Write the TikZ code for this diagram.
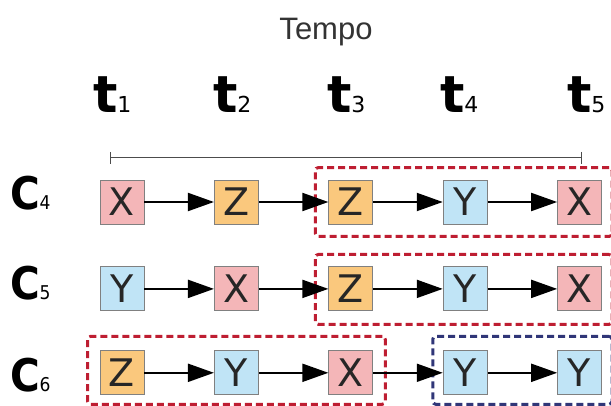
\documentclass[tikz,border=0pt]{standalone}
\usepackage{fontspec}
\setmainfont{DejaVu Sans}
\newfontfamily\tempofont{Liberation Sans}
\newfontfamily\labelfont{DejaVu Sans Condensed}
\usetikzlibrary{arrows.meta,positioning,fit}
\definecolor{cellred}{RGB}{244,182,184}
\definecolor{cellorange}{RGB}{250,200,125}
\definecolor{cellblue}{RGB}{192,228,246}
\definecolor{groupred}{RGB}{190,30,50}
\definecolor{groupblue}{RGB}{48,54,120}
\newcommand{\idx}[2]{{\fontsize{#1}{#1}\selectfont\mdseries #2}}

\begin{document}
\begin{tikzpicture}[x=1pt,y=1pt,->,>={Triangle[length=26pt,width=18pt]},
                    node distance=42pt and 69.5pt,line width=2pt,
                    font=\fontsize{38}{38}\selectfont]
  \tikzstyle{cell}=[draw=gray,line width=0.9pt,minimum size=44pt,inner sep=0pt,text=black!85]
  \tikzstyle{group}=[draw,line width=3pt,dash pattern=on 7pt off 4pt,rounded corners=3pt,inner xsep=12pt,inner ysep=12pt]
  \useasboundingbox (0,0) rectangle (611,-406);

  % title and time axis
  \node[anchor=base,font=\tempofont\fontsize{31}{31}\selectfont,text=black!80] (tempo) at (326,-40) {Tempo};
  \foreach \i/\x in {1/92,2/212,3/326,4/439,5/566}
    \node[anchor=base west,inner sep=0pt,font=\bfseries\fontsize{51}{51}\selectfont] (t\i) at (\x,-113) {t\idx{22}{\i}};
  \coordinate (tl) at (110,-158);
  \coordinate (tr) at (582,-158);
  \draw[{Bar[width=12pt]}-{Bar[width=12pt]},line width=1pt,black!70] (tl) -- (tr);

  % sequence labels
  \foreach \n/\y in {4/210,5/300,6/391}
    \node[anchor=base west,inner sep=0pt,font=\labelfont\bfseries\fontsize{45}{45}\selectfont] (s\n) at (9,-\y) {C\idx{19}{\n}};

  % sequences
  \node[cell,fill=cellred] (a1) at (122,-202) {X};
  \node[cell,fill=cellorange] (a2) [right=of a1] {Z};
  \node[cell,fill=cellorange] (a3) [right=of a2] {Z};
  \node[cell,fill=cellblue] (a4) [right=of a3] {Y};
  \node[cell,fill=cellred] (a5) [right=of a4] {X};

  \node[cell,fill=cellblue] (b1) [below=of a1] {Y};
  \node[cell,fill=cellred] (b2) [right=of b1] {X};
  \node[cell,fill=cellorange] (b3) [right=of b2] {Z};
  \node[cell,fill=cellblue] (b4) [right=of b3] {Y};
  \node[cell,fill=cellred] (b5) [right=of b4] {X};

  \node[cell,fill=cellorange] (c1) [below=39pt of b1] {Z};
  \node[cell,fill=cellblue] (c2) [right=of c1] {Y};
  \node[cell,fill=cellred] (c3) [right=of c2] {X};
  \node[cell,fill=cellblue] (c4) [right=of c3] {Y};
  \node[cell,fill=cellblue] (c5) [right=of c4] {Y};

  % groups
  \node[group,groupred,inner xsep=11.5pt,xshift=-1.5pt,fit=(a3)(a5)] (ga) {};
  \node[group,groupred,inner xsep=11.5pt,xshift=-1.5pt,inner ysep=12.5pt,yshift=-0.5pt,fit=(b3)(b5)] (gb) {};
  \node[group,groupred,inner ysep=11.5pt,yshift=2.5pt,fit=(c1)(c3)] (gc) {};
  \node[group,groupblue,inner xsep=10pt,inner ysep=11.5pt,yshift=2.5pt,fit=(c4)(c5)] (gd) {};

  \path (a1) edge (a2) (a2) edge (a3) (a3) edge (a4) (a4) edge (a5)
        (b1) edge (b2) (b2) edge (b3) (b3) edge (b4) (b4) edge (b5)
        (c1) edge (c2) (c2) edge (c3) (c3) edge (c4) (c4) edge (c5);

\end{tikzpicture}
\end{document}
